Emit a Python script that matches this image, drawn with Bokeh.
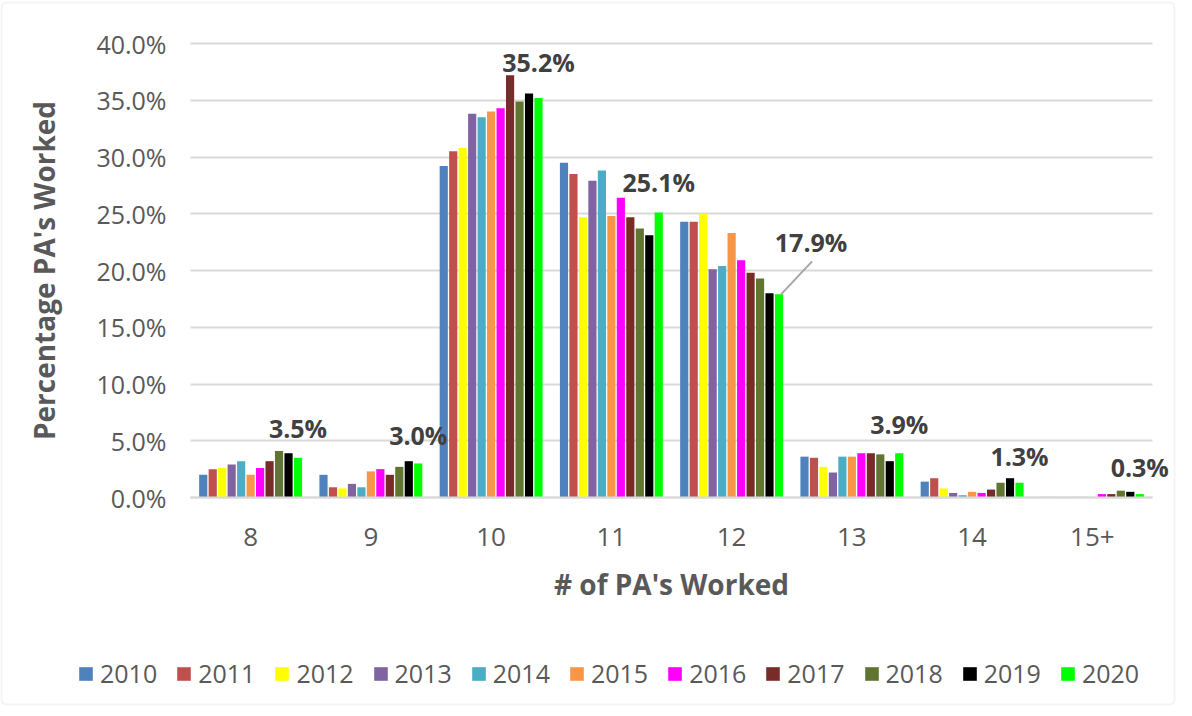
import numpy as np
from bokeh.plotting import figure
from bokeh.models import (ColumnDataSource, Range1d, NumeralTickFormatter, FixedTicker,
                          SingleIntervalTicker, Legend, LegendItem, LabelSet, LinearAxis,
                          Grid, BoxAnnotation)
from bokeh.core.properties import value
from bokeh.embed import file_html
from bokeh.resources import INLINE

# ---------------- data (percent) ----------------
categories = ["8", "9", "10", "11", "12", "13", "14", "15+"]
years = ["2010", "2011", "2012", "2013", "2014", "2015",
         "2016", "2017", "2018", "2019", "2020"]
y2010 = [2.0, 2.0, 29.2, 29.5, 24.3, 3.6, 1.4, 0.05]
y2011 = [2.5, 0.9, 30.5, 28.5, 24.3, 3.5, 1.7, 0.05]
y2012 = [2.6, 0.8, 30.8, 24.7, 25.0, 2.7, 0.8, 0.05]
y2013 = [2.9, 1.2, 33.8, 27.9, 20.1, 2.2, 0.4, 0.05]
y2014 = [3.2, 0.9, 33.5, 28.8, 20.4, 3.6, 0.2, 0.05]
y2015 = [2.0, 2.3, 34.0, 24.8, 23.3, 3.6, 0.5, 0.0]
y2016 = [2.6, 2.5, 34.3, 26.4, 20.9, 3.9, 0.4, 0.3]
y2017 = [3.2, 2.0, 37.2, 24.7, 19.8, 3.9, 0.7, 0.3]
y2018 = [4.1, 2.7, 34.9, 23.7, 19.3, 3.8, 1.3, 0.6]
y2019 = [3.9, 3.2, 35.6, 23.1, 18.0, 3.2, 1.7, 0.5]
y2020 = [3.5, 3.0, 35.2, 25.1, 17.9, 3.9, 1.3, 0.3]
series = [y2010, y2011, y2012, y2013, y2014, y2015,
          y2016, y2017, y2018, y2019, y2020]
y_max = 40.0
y_ticks_step = 5.0

colors = ["#4F81BD", "#C0504D", "#FFFF00", "#8064A2", "#4BACC6", "#F79646",
          "#FF00FF", "#772C2A", "#5F7530", "#000000", "#00FF00"]

n_cat = len(categories)
xc = [i + 0.5 for i in range(n_cat)]

# ---------------- geometry (pixels) ----------------
W, H = 1176, 708
plot_left, plot_top = 190, 43           # canvas px of the plotting area
px_per_cat = 120.25
px_per_unit = 454 / (y_max / 100.0)
x_start = -plot_left / px_per_cat
x_end = (W - plot_left) / px_per_cat
y_top = y_max / 100.0 + plot_top / px_per_unit
y_bot = y_max / 100.0 - (H - plot_top) / px_per_unit

p = figure(frame_width=W, frame_height=H,
           x_range=Range1d(x_start, x_end), y_range=Range1d(y_bot, y_top),
           x_axis_location=None, y_axis_location=None,
           output_backend="svg", toolbar_location=None,
           min_border=0)
p.outline_line_color = None
p.background_fill_color = "white"
p.border_fill_color = "white"
for g in list(p.center):
    if isinstance(g, Grid):
        g.visible = False

# ---------------- gridlines ----------------
yticker = SingleIntervalTicker(interval=y_ticks_step / 100.0)
if "cross_bounds" in Grid.properties():
    grid = Grid(dimension=1, ticker=yticker, bounds=(0, y_max / 100.0),
                cross_bounds=(0, n_cat), grid_line_color="#d9d9d9", grid_line_width=2)
    p.add_layout(grid)
else:
    gy = list(np.arange(0, y_max / 100.0 + 1e-9, y_ticks_step / 100.0))
    p.segment(x0=[0] * len(gy), x1=[n_cat] * len(gy), y0=gy, y1=gy,
              line_color="#d9d9d9", line_width=2)

# ---------------- bars ----------------
stride = 0.0788
bar_w = 0.068
renderers = []
for i, (yr, s) in enumerate(zip(years, series)):
    off = (i - 5) * stride
    src = ColumnDataSource(dict(x=[c + off for c in xc], top=[v / 100.0 for v in s]))
    r = p.vbar(x="x", top="top", width=bar_w, bottom=0, source=src,
               fill_color=colors[i], line_color=None)
    renderers.append(r)

# ---------------- axes ----------------
yaxis = LinearAxis(fixed_location=0, ticker=yticker,
                   formatter=NumeralTickFormatter(format="0.0%"),
                   bounds=(0, y_max / 100.0))
yaxis.axis_line_color = None
yaxis.major_tick_line_color = None
yaxis.minor_tick_line_color = None
yaxis.major_label_standoff = 18
yaxis.major_label_text_font = "Open Sans"
yaxis.major_label_text_font_size = "25px"
yaxis.major_label_text_color = "#595959"
yaxis.axis_label = "Percentage PA's Worked"
yaxis.axis_label_text_font = "Open Sans"
yaxis.axis_label_text_font_style = "bold"
yaxis.axis_label_text_font_size = "28px"
yaxis.axis_label_text_color = "#595959"
yaxis.axis_label_standoff = 30
p.add_layout(yaxis, "left")

xaxis = LinearAxis(fixed_location=0, ticker=FixedTicker(ticks=xc), bounds=(0, n_cat))
xaxis.major_label_overrides = {x: c for x, c in zip(xc, categories)}
xaxis.axis_line_color = "#d9d9d9"
xaxis.axis_line_width = 2
xaxis.major_tick_line_color = None
xaxis.minor_tick_line_color = None
xaxis.major_label_standoff = 24
xaxis.major_label_text_font = "Open Sans"
xaxis.major_label_text_font_size = "26px"
xaxis.major_label_text_color = "#595959"
xaxis.axis_label = "# of PA's Worked"
xaxis.axis_label_text_font = "Open Sans"
xaxis.axis_label_text_font_style = "bold"
xaxis.axis_label_text_font_size = "28px"
xaxis.axis_label_text_color = "#595959"
xaxis.axis_label_standoff = 16
p.add_layout(xaxis, "below")

# ---------------- data labels (2020 series) ----------------
last_off = 5 * stride
label_dx = [0, 0, 0, 0, 0.267, 0, 0, 0]
label_dy = [0.026, 0.025, 0.032, 0.027, 0.046, 0.026, 0.024, 0.0235]
lab_src = ColumnDataSource(dict(
    x=[c + last_off + dx for c, dx in zip(xc, label_dx)],
    y=[v / 100.0 + dy for v, dy in zip(y2020, label_dy)],
    txt=["%.1f%%" % v for v in y2020],
))
labels = LabelSet(x="x", y="y", text="txt", source=lab_src, text_align="center",
                  text_baseline="middle", text_font=value("Open Sans"),
                  text_font_style="bold", text_font_size="25px", text_color="#404040")
p.add_layout(labels)

# leader line for the "12" label
i12 = categories.index("12")
v12 = y2020[i12] / 100.0
lead = ColumnDataSource(dict(x0=[xc[i12] + last_off + 0.017], y0=[v12],
                             x1=[xc[i12] + last_off + 0.275], y1=[v12 + 0.029]))
p.segment(x0="x0", y0="y0", x1="x1", y1="y1", source=lead,
          line_color="#A6A6A6", line_width=2)

# ---------------- legend ----------------
items = [LegendItem(label=yr, renderers=[r]) for yr, r in zip(years, renderers)]
legend = Legend(items=items, orientation="horizontal", location=(77, 18),
                glyph_width=17, glyph_height=17, label_standoff=6, spacing=18,
                label_text_font="Open Sans", label_text_font_size="25px",
                label_text_color="#595959", border_line_color=None,
                background_fill_alpha=0, margin=0, padding=0)
p.add_layout(legend)

# ---------------- outer frame ----------------
p.add_layout(BoxAnnotation(left=1, right=W - 2, top=4, bottom=H - 2,
                           left_units="screen", right_units="screen",
                           top_units="screen", bottom_units="screen",
                           fill_alpha=0, line_color="#d9d9d9", line_width=2,
                           border_radius=5))

open("out.html", "w").write(file_html(p, INLINE))
